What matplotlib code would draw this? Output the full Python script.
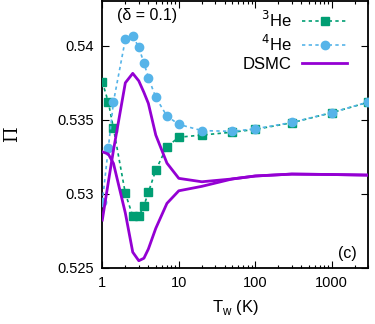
import matplotlib
matplotlib.use("Agg")
import matplotlib.pyplot as plt
from matplotlib.ticker import FixedLocator, LogLocator, NullFormatter

plt.rcParams['font.family'] = ['Liberation Sans', 'DejaVu Sans']

T_w = [1, 1.2, 1.4, 2, 2.5, 3, 3.5, 4, 5, 7, 10, 20, 50, 100, 300, 1000, 3000]
he3 = [0.53757, 0.53618, 0.53442, 0.53003, 0.52849, 0.52847, 0.52919, 0.53009,
       0.53160, 0.53318, 0.53382, 0.53397, 0.53416, 0.53435, 0.53480, 0.53548, 0.53619]
he4 = [0.52942, 0.53312, 0.53622, 0.54043, 0.54068, 0.53989, 0.53885, 0.53786,
       0.53651, 0.53525, 0.53469, 0.53427, 0.53422, 0.53439, 0.53482, 0.53549, 0.53620]
dsmc_a = [0.52822, 0.53080, 0.53295, 0.53750, 0.53814, 0.53763, 0.53685, 0.53611,
          0.53397, 0.53207, 0.53104, 0.53081, 0.53100, 0.53120, 0.53133, 0.53130, 0.53126]
dsmc_b = [0.53284, 0.53268, 0.53205, 0.52870, 0.52605, 0.52547, 0.52564, 0.52626,
          0.52766, 0.52935, 0.53020, 0.53050, 0.53100, 0.53120, 0.53133, 0.53130, 0.53126]

green = '#009e73'
blue = '#56b4e9'
purple = '#9400d3'

fig = plt.figure(figsize=(3.75, 3.24), dpi=100)
ax = fig.add_axes([0.2728, 0.1738, 0.7093, 0.8216])

ax.plot(T_w, he3, linestyle=(0, (2, 2)), color=green, lw=1.2, marker='s',
        ms=5.5, mfc=green, mec=green, label='$^3$He', zorder=3)
ax.plot(T_w, he4, linestyle=(0, (2, 2)), color=blue, lw=1.2, marker='o',
        ms=6, mfc=blue, mec=blue, label='$^4$He', zorder=3)
ax.plot(T_w, dsmc_a, color=purple, lw=2.0, label='DSMC', zorder=4)
ax.plot(T_w, dsmc_b, color=purple, lw=2.0, zorder=4)

ax.set_xscale('log')
ax.set_xlim(1, 3000)
ax.set_ylim(0.525, 0.543)
ax.yaxis.set_major_locator(FixedLocator([0.525, 0.53, 0.535, 0.54]))
ax.set_yticklabels(['0.525', '0.53', '0.535', '0.54'])
ax.xaxis.set_major_locator(FixedLocator([1, 10, 100, 1000]))
ax.set_xticklabels(['1', '10', '100', '1000'])
ax.xaxis.set_minor_locator(LogLocator(base=10, subs=range(2, 10), numticks=20))
ax.xaxis.set_minor_formatter(NullFormatter())

ax.tick_params(which='both', direction='in', top=True, right=True, labelsize=10.5,
               width=0.8, color='black')
ax.tick_params(which='major', length=5, pad=6)
ax.tick_params(which='minor', length=2.5)
for s in ax.spines.values():
    s.set_linewidth(1.3)

ax.set_ylabel('Π', fontsize=13, family=['DejaVu Serif'], labelpad=26)
ax.set_xlabel('T$_\\mathregular{w}$ (K)', fontsize=12, labelpad=6)

ax.text(0.055, 0.975, '(δ = 0.1)', transform=ax.transAxes, fontsize=11.5,
        ha='left', va='top')
ax.text(0.955, 0.025, '(c)', transform=ax.transAxes, fontsize=11.5,
        ha='right', va='bottom')

leg = ax.legend(loc='upper right', frameon=False, markerfirst=False,
                fontsize=12, handlelength=2.7, borderaxespad=0.0, borderpad=0.0,
                labelspacing=0.2, handletextpad=0.65,
                bbox_to_anchor=(0.92, 0.968))
for t in leg.get_texts():
    t.set_ha('right')

fig.savefig('out.png', dpi=100)
